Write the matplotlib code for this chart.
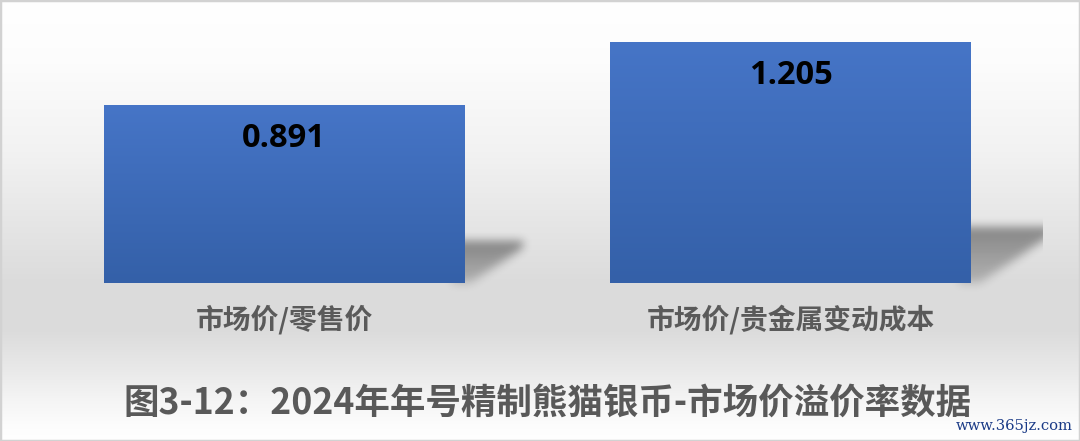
import numpy as np
import matplotlib
matplotlib.use('Agg')
import matplotlib.pyplot as plt
from matplotlib.path import Path
from matplotlib.patches import Rectangle
from matplotlib.colors import LinearSegmentedColormap

categories = ['市场价/零售价', '市场价/贵金属变动成本']
values = [0.891, 1.205]
value_labels = ['0.891', '1.205']
title = '图3-12：2024年年号精制熊猫银币-市场价溢价率数据'
watermark = 'www.365jz.com'

W, H = 1080, 441
fig = plt.figure(figsize=(W / 100, H / 100), dpi=100)

# ---- background vertical gradient (rows from top) ----
stops_y = [0, 60, 150, 283, 330, 370, 400, 425, 441]
stops_v = [1.0, 0.99, 0.95, 0.86, 0.86, 0.915, 0.96, 0.99, 1.0]
col = np.interp(np.arange(H), stops_y, stops_v)
bg = np.repeat(col[:, None], W, axis=1)
bg = np.dstack([bg, bg, bg])
fig.figimage(bg, xo=0, yo=0, origin='upper', zorder=-10)

# ---- main axes ----
ax = fig.add_axes([0, 158 / H, 1, 279 / H])
ax.patch.set_alpha(0)
ax.axis('off')
x = np.arange(len(values))
bars = ax.bar(x, values, width=0.711, color='#4472C4', zorder=2)

bar_cmap = LinearSegmentedColormap.from_list('barg', ['#3460A8', '#4675C7'])
grad = np.linspace(1, 0, 256).reshape(-1, 1)
for b in bars:
    ax.imshow(grad, extent=(b.get_x(), b.get_x() + b.get_width(), 0, b.get_height()),
              aspect='auto', cmap=bar_cmap, vmin=0, vmax=1, zorder=3)
ax.set_xlim(-0.5607, 1.5716)
ax.set_ylim(0, 1.4)

# ---- perspective shadows (pixel space, derived from bars) ----
gx, gy = np.meshgrid(np.arange(W) + 0.5, np.arange(H) + 0.5)
pts = np.column_stack([gx.ravel(), gy.ravel()])
alpha = np.zeros((H, W))


def box_blur(a, r, axis):
    c = np.cumsum(np.pad(a, [(r + 1, r) if i == axis else (0, 0) for i in range(2)], mode='edge'), axis=axis)
    if axis == 0:
        return (c[2 * r + 1:] - c[:-2 * r - 1]) / (2 * r + 1)
    return (c[:, 2 * r + 1:] - c[:, :-2 * r - 1]) / (2 * r + 1)


for b in bars:
    (R, B) = ax.transData.transform((b.get_x() + b.get_width(), 0))
    (_, T) = ax.transData.transform((b.get_x() + b.get_width(), b.get_height()))
    hp = T - B
    top = B + 0.235 * hp
    tip = R + 0.33 * hp
    poly = Path([(R - 12, B), (R - 12, top), (tip, top), (tip, top - 0.04 * hp),
                 (R + 0.04 * hp, B), (R - 12, B)])
    m = poly.contains_points(pts).astype(float).reshape(H, W)
    for _ in range(3):
        m = box_blur(m, 4, 0)
        m = box_blur(m, 4, 1)
    # darker near top edge, lighter toward the base
    f = np.clip(0.45 + 0.55 * (gy - B) / (top - B), 0.45, 1.0)
    alpha = np.maximum(alpha, m * f)

# plot area right edge clips the shadow
alpha[gx > 0.966 * W] = 0
shadow = np.zeros((H, W, 4))
shadow[..., 3] = alpha * 0.42
fig.figimage(shadow, xo=0, yo=0, origin='lower', zorder=-5)

# ---- labels ----
cjk = ['Noto Sans CJK SC', 'DejaVu Sans']
for xi, v, lab in zip(x, values, value_labels):
    ax.annotate(lab, xy=(xi, v), xytext=(0, -33), textcoords='offset pixels',
                ha='center', va='center', fontsize=23.5, fontweight='bold',
                family=['Open Sans', 'DejaVu Sans'], color='#000000', zorder=5)
for xi, cat in zip(x, categories):
    ax.annotate(cat, xy=(xi, 0), xytext=(0, -37), textcoords='offset pixels',
                ha='center', va='center', fontsize=20, fontweight='bold',
                family=cjk, color='#5A5A5A', annotation_clip=False)

fig.text(548 / W, 38 / H, title, ha='center', va='center', fontsize=25.6,
         fontweight='bold', family=cjk, color='#595959')
fig.text(1073 / W, 15 / H, watermark, ha='right', va='center', fontsize=10.6,
         family=['DejaVu Serif'], color='#1A3A86')

fig.add_artist(Rectangle((0, 0), 1, 1, transform=fig.transFigure, fill=False,
                         edgecolor='#D2D2D2', lw=2.5, zorder=10))

fig.savefig('out.png', dpi=100)
